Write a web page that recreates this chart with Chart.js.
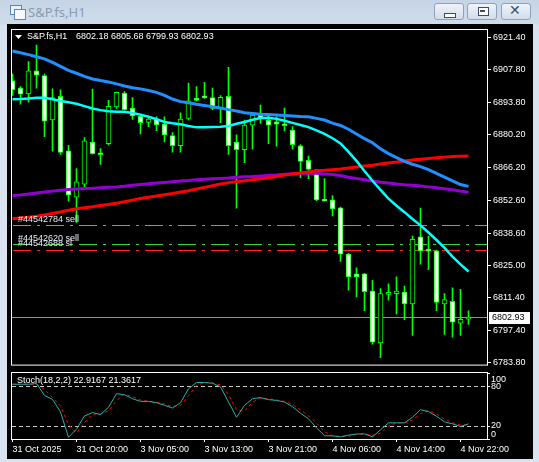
<!DOCTYPE html>
<html><head><meta charset="utf-8">
<script src="https://cdn.jsdelivr.net/npm/chart.js@4.4.1/dist/chart.umd.min.js"></script>
<style>
html,body{margin:0;padding:0;width:539px;height:462px;overflow:hidden;background:#d6e1ee;}
#win{position:absolute;left:0;top:0;width:539px;height:462px;background:linear-gradient(#c6d5e6 0px,#cfdcea 24px,#d8e3ef 25px,#d8e3ef 462px);}
#title{position:absolute;left:28px;top:3px;font:13px "Noto Sans",sans-serif;color:#8a9bb1;letter-spacing:0px;}
#client{position:absolute;left:7px;top:24px;width:526px;height:435px;background:#000;}
.btn{position:absolute;top:3px;width:30px;height:17px;border:1px solid #8fa1bb;border-radius:3px;background:linear-gradient(#eef3f9,#d2ddeb);box-sizing:border-box;}
.ic1{position:absolute;left:10px;top:5px;width:10px;height:8px;border:1px solid #5f84b8;background:#e8f0fa;}
.ic2{position:absolute;left:14px;top:9px;width:10px;height:9px;border:1px solid #5f84b8;background:#f4f8fd;}
canvas{position:absolute;left:0;top:0;}
</style></head>
<body>
<div id="win">
  <div class="ic1"></div><div class="ic2"></div>
  <div id="title">S&amp;P.fs,H1</div>
  <div class="btn" style="left:434px"><div style="position:absolute;left:9px;top:9px;width:10px;height:3px;border:1px solid #3c4c64;background:#fff;"></div></div>
  <div class="btn" style="left:467px"><div style="position:absolute;left:10px;top:3px;width:9px;height:7px;border:1px solid #3c4c64;background:#fff;"></div><div style="position:absolute;left:12px;top:6px;width:5px;height:2px;background:#3c4c64;"></div></div>
  <div class="btn" style="left:501px"><div style="position:absolute;left:7px;top:-2px;font:bold 14px 'DejaVu Sans',sans-serif;color:#3c4c64;">✕</div></div>
  <div id="client"></div>
</div>
<canvas id="main" width="539" height="372"></canvas>
<canvas id="stoch" width="539" height="462"></canvas>
<script>
// ---------- data ----------
const symbolName = 'S&P.fs,H1';
const quoteText = '6802.18 6805.68 6799.93 6802.93';
const timeLabels = ['31 Oct 2025','31 Oct 20:00','3 Nov 05:00','3 Nov 13:00','3 Nov 21:00','4 Nov 06:00','4 Nov 14:00','4 Nov 22:00'];
const timeLabelBars = [0,8,16,24,32,40,48,56];
const priceTicks = [6921.40,6907.80,6893.80,6880.20,6866.20,6852.60,6838.60,6825.00,6811.40,6797.40,6783.80];
const open  = [6903.2,6900.0,6897.6,6907.3,6905.3,6886.5,6896.5,6873.5,6853.8,6859.3,6877.2,6872.0,6876.5,6892.1,6897.9,6891.6,6888.2,6885.5,6886.9,6884.8,6879.9,6875.6,6887.2,6895.8,6896.0,6896.0,6891.4,6896.5,6877.2,6874.0,6884.3,6888.6,6886.5,6885.7,6884.4,6882.3,6875.6,6869.4,6865.4,6852.3,6852.7,6849.3,6829.7,6821.4,6821.4,6814.1,6792.1,6812.7,6813.0,6813.7,6808.6,6837.1,6831.2,6831.1,6808.6,6809.7,6800.5,6802.18];
const high  = [6906.0,6900.7,6911.3,6918.2,6906.0,6899.7,6899.3,6875.8,6866.0,6879.1,6899.6,6874.4,6894.8,6898.3,6898.6,6896.0,6888.6,6888.2,6887.9,6887.9,6881.2,6889.6,6902.1,6900.7,6902.5,6900.0,6896.9,6908.8,6880.2,6886.5,6889.6,6892.8,6888.2,6887.9,6891.6,6883.7,6876.1,6871.2,6865.6,6861.7,6854.5,6849.6,6830.1,6823.9,6821.6,6818.6,6815.1,6817.2,6820.1,6816.2,6837.4,6849.2,6837.4,6831.4,6813.0,6815.5,6814.8,6805.68];
const low   = [6896.9,6893.2,6894.1,6900.0,6879.5,6873.3,6871.9,6852.1,6843.2,6857.2,6872.0,6867.7,6876.0,6891.4,6890.7,6886.8,6880.6,6883.7,6882.0,6877.2,6872.9,6872.9,6886.5,6894.6,6895.7,6890.9,6885.4,6871.9,6849.2,6868.4,6874.2,6885.1,6876.5,6875.4,6881.9,6874.2,6862.1,6861.7,6852.4,6852.1,6845.9,6826.6,6814.5,6811.6,6805.8,6791.6,6785.9,6810.2,6804.4,6802.0,6795.3,6825.5,6823.2,6805.8,6795.7,6794.6,6795.3,6799.93];
const close = [6899.3,6897.4,6907.3,6905.5,6886.0,6896.0,6872.8,6854.7,6860.3,6877.7,6872.3,6871.8,6892.3,6898.2,6890.9,6888.2,6885.4,6886.9,6884.4,6880.2,6875.6,6886.9,6894.6,6894.8,6895.9,6891.4,6896.1,6875.6,6874.0,6884.4,6888.6,6887.2,6884.3,6884.8,6884.1,6876.1,6869.0,6865.6,6852.7,6852.2,6848.9,6829.7,6820.1,6820.1,6813.8,6792.5,6813.0,6813.0,6814.1,6808.6,6836.0,6831.1,6831.0,6809.3,6810.5,6800.9,6802.1,6802.93];
const maBlue   = [6915.7,6915.0,6914.2,6913.3,6912.4,6910.9,6909.2,6907.5,6906.3,6905.0,6903.9,6903.2,6902.6,6901.8,6900.9,6900.2,6899.7,6899.0,6898.2,6896.9,6895.4,6894.3,6893.8,6893.2,6892.7,6892.1,6891.6,6890.9,6890.3,6889.6,6889.3,6889.0,6888.8,6888.6,6888.4,6888.2,6888.0,6887.9,6887.2,6886.5,6885.2,6884.2,6882.6,6880.6,6878.6,6876.9,6874.3,6872.3,6870.6,6869.0,6867.8,6866.8,6865.5,6863.9,6862.3,6860.7,6859.2,6858.4];
const maAqua   = [6895.3,6895.4,6895.6,6895.9,6895.9,6895.3,6894.6,6894.0,6893.4,6892.4,6891.4,6890.7,6890.2,6890.0,6890.0,6889.5,6888.8,6887.9,6886.9,6885.7,6885.1,6884.7,6884.0,6883.4,6883.4,6883.6,6883.7,6884.0,6884.9,6885.7,6886.6,6887.4,6887.5,6887.0,6886.2,6885.3,6884.4,6883.5,6882.1,6880.6,6878.8,6876.6,6873.0,6869.2,6864.9,6860.8,6856.9,6853.2,6850.2,6847.5,6844.6,6841.9,6838.9,6835.7,6832.4,6828.7,6825.4,6822.4];
const maRed    = [6844.7,6845.0,6845.4,6845.8,6846.3,6846.9,6847.6,6848.3,6848.9,6849.4,6849.8,6850.3,6850.7,6851.3,6851.9,6852.6,6853.3,6853.8,6854.3,6854.9,6855.4,6856.0,6856.6,6857.3,6858.0,6858.7,6859.4,6860.0,6860.4,6860.8,6861.2,6861.6,6862.1,6862.6,6863.2,6863.7,6864.1,6864.5,6865.0,6865.2,6865.5,6865.8,6866.2,6866.6,6867.0,6867.4,6867.9,6868.3,6868.7,6869.2,6869.6,6869.9,6870.2,6870.5,6870.8,6871.1,6871.2,6871.3];
const maViolet = [6854.5,6854.8,6855.2,6855.6,6856.0,6856.4,6856.8,6857.1,6857.3,6857.5,6857.6,6857.8,6858.0,6858.2,6858.5,6858.9,6859.2,6859.5,6859.8,6860.1,6860.4,6860.7,6860.9,6861.2,6861.4,6861.6,6861.8,6862.0,6862.3,6862.5,6862.6,6862.8,6863.0,6863.2,6863.5,6863.8,6864.0,6864.1,6864.0,6863.7,6863.4,6863.0,6862.3,6861.8,6861.2,6860.7,6860.2,6859.8,6859.4,6859.1,6858.9,6858.6,6858.2,6857.8,6857.4,6857.0,6856.4,6855.9];
const bidPrice = 6802.93;
const orderLabels = ['#44542784 sell','#44542620 sell','#44542688 sl'];
const orderPrices = [6841.95,6834.0,6831.5];
const stochName = 'Stoch(18,2,2) 22.9167 21.3617';
const stochK = [83,83,83,84,66,60,41,2.6,15,35,40,37,48,68.8,67,61,57,57,55,51,47,55,76,85.6,85.6,84.5,79,56,33,51,61,62.7,59.6,58.5,56,49,39,30.6,17,5,4.7,3.2,5.8,7.7,7.7,3.2,14,24.5,24.5,24.5,33,44.4,41.5,34.5,26,23,19,22.92];
const stochD = [83,83,83,83,75,63,50,22,9,25,37.5,38.5,42.5,58,68,64,59,57,56,53,49,51,65.5,81,85.6,85,82,67.5,44.5,42,56,62,61,59,57,52.5,44,35,24,11,5,4,4.5,6.8,7.7,5.5,8.6,19.3,24.5,24.5,28.8,38.7,43,38,30.3,24.5,21,21.36];
const stochLevels = [80,20];
const stochTicks = [100,80,20,0];

// ---------- styling ----------
const FONT = '9px "Liberation Sans", Arial, sans-serif';
Chart.defaults.font.family = '"Liberation Sans", Arial, sans-serif';
Chart.defaults.font.size = 9;
Chart.defaults.color = '#ffffff';
const LIME = '#00ff00';
const orderColors = ['#3ccf3c','#3ccf3c','#ff2020'];
const orderDash = [18,6,3,6];
const XMIN = -0.0625, XMAX = 59.3125;
const idx = open.map((_, i) => i);

const mainPlugin = {
  id: 'mainPlugin',
  beforeDatasetsDraw(chart) {
    const {ctx, chartArea: a} = chart; const y = chart.scales.y;
    ctx.save();
    ctx.beginPath(); ctx.rect(a.left, a.top, a.right - a.left, a.bottom - a.top); ctx.clip();
    ctx.lineWidth = 1;
    orderPrices.forEach((p, k) => {
      const yy = Math.round(y.getPixelForValue(p)) + 0.5;
      ctx.strokeStyle = orderColors[k]; ctx.setLineDash(orderDash);
      ctx.beginPath(); ctx.moveTo(a.left + 1, yy); ctx.lineTo(a.right, yy); ctx.stroke();
    });
    ctx.setLineDash([]);
    const by = Math.round(y.getPixelForValue(bidPrice)) + 0.5;
    ctx.strokeStyle = '#8a949e';
    ctx.beginPath(); ctx.moveTo(a.left, by); ctx.lineTo(a.right, by); ctx.stroke();
    ctx.restore();
  },
  afterDraw(chart) {
    const {ctx, chartArea: a} = chart; const y = chart.scales.y;
    ctx.save();
    ctx.strokeStyle = '#ffffff'; ctx.lineWidth = 1;
    ctx.strokeRect(a.left - 0.5, a.top - 0.5, a.right - a.left + 1, a.bottom - a.top + 1);
    ctx.font = FONT; ctx.textBaseline = 'middle'; ctx.textAlign = 'left';
    ctx.fillStyle = '#ffffff';
    ctx.beginPath(); ctx.moveTo(a.left + 3, a.top + 5); ctx.lineTo(a.left + 10, a.top + 5); ctx.lineTo(a.left + 6.5, a.top + 9); ctx.closePath(); ctx.fill();
    ctx.fillText(symbolName, a.left + 15, a.top + 7);
    ctx.fillText(quoteText, a.left + 64, a.top + 7);
    ctx.fillStyle = '#e4ebf4';
    orderLabels.forEach((t, k) => {
      ctx.fillText(t, a.left + 6, y.getPixelForValue(orderPrices[k]) - 6);
    });
    const by = Math.round(y.getPixelForValue(bidPrice));
    ctx.fillStyle = '#ffffff';
    ctx.fillRect(a.right + 2, by - 5, 41, 12);
    ctx.fillStyle = '#000000';
    ctx.fillText(bidPrice.toFixed(2), a.right + 5, by + 1);
    ctx.restore();
  }
};

new Chart(document.getElementById('main'), {
  data: {
    datasets: [
      { type: 'bar', data: idx.map(i => ({x: i, y: [low[i], high[i]]})), backgroundColor: LIME, barThickness: 1, grouped: false, order: 10 },
      { type: 'bar', data: idx.map(i => ({x: i, y: [open[i], close[i]]})),
        backgroundColor: idx.map(i => close[i] >= open[i] ? '#000000' : '#ffffff'),
        borderColor: LIME, borderWidth: 1, borderSkipped: false, barThickness: 5, minBarLength: 2, grouped: false, order: 9 },
      { type: 'line', data: idx.map(i => ({x: i, y: maViolet[i]})), borderColor: '#9400d3', borderWidth: 3, pointRadius: 0, order: 4 },
      { type: 'line', data: idx.map(i => ({x: i, y: maRed[i]})), borderColor: '#ff0000', borderWidth: 3, pointRadius: 0, order: 3 },
      { type: 'line', data: idx.map(i => ({x: i, y: maBlue[i]})), borderColor: '#1e90ff', borderWidth: 3, pointRadius: 0, order: 2 },
      { type: 'line', data: idx.map(i => ({x: i, y: maAqua[i]})), borderColor: '#00ffff', borderWidth: 2.5, pointRadius: 0, order: 1 }
    ]
  },
  options: {
    responsive: false, animation: false, events: [], devicePixelRatio: 1,
    layout: { padding: { left: 12, top: 30, right: 0, bottom: 3 } },
    plugins: { legend: { display: false }, tooltip: { enabled: false } },
    scales: {
      x: { type: 'linear', min: XMIN, max: XMAX, offset: false, display: false },
      y: { type: 'linear', position: 'right', min: 6782.96, max: 6924.62,
           afterFit(s) { s.width = 52; },
           afterBuildTicks(s) { s.ticks = priceTicks.map(v => ({value: v})); },
           grid: { display: true, drawOnChartArea: false, drawTicks: true, tickLength: 4, color: '#ffffff' },
           border: { display: false },
           ticks: { color: '#ffffff', padding: 2, autoSkip: false, font: { size: 9 }, callback: v => Number(v).toFixed(2) } }
    }
  },
  plugins: [mainPlugin]
});

const stochPlugin = {
  id: 'stochPlugin',
  beforeDatasetsDraw(chart) {
    const {ctx, chartArea: a} = chart; const y = chart.scales.y;
    ctx.save();
    ctx.strokeStyle = '#c8c8c8'; ctx.lineWidth = 1; ctx.setLineDash([4, 3]);
    stochLevels.forEach(v => {
      const yy = Math.round(y.getPixelForValue(v)) + 0.5;
      ctx.beginPath(); ctx.moveTo(a.left, yy); ctx.lineTo(a.right, yy); ctx.stroke();
    });
    ctx.restore();
  },
  afterDraw(chart) {
    const {ctx, chartArea: a} = chart; const y = chart.scales.y;
    ctx.save();
    ctx.strokeStyle = '#ffffff'; ctx.lineWidth = 1;
    ctx.strokeRect(a.left - 0.5, a.top - 0.5, a.right - a.left + 1, a.bottom - a.top + 1);
    ctx.font = FONT; ctx.textBaseline = 'middle'; ctx.textAlign = 'left'; ctx.fillStyle = '#ffffff';
    ctx.fillText(stochName, a.left + 5, a.top + 8);
    stochTicks.forEach(v => {
      const yy = y.getPixelForValue(v);
      ctx.beginPath(); ctx.moveTo(a.right, Math.round(yy) + 0.5); ctx.lineTo(a.right + 3, Math.round(yy) + 0.5); ctx.stroke();
      const ty = Math.min(Math.max(yy, a.top + 6.5), a.bottom - 4);
      ctx.fillText(String(v), a.right + 4, ty);
    });
    ctx.restore();
  }
};

new Chart(document.getElementById('stoch'), {
  data: {
    datasets: [
      { type: 'line', data: idx.map(i => ({x: i, y: stochD[i]})), borderColor: '#ff0000', borderWidth: 1, borderDash: [3, 3], pointRadius: 0, order: 2 },
      { type: 'line', data: idx.map(i => ({x: i, y: stochK[i]})), borderColor: '#20b2aa', borderWidth: 1, pointRadius: 0, order: 1 }
    ]
  },
  options: {
    responsive: false, animation: false, events: [], devicePixelRatio: 1,
    layout: { padding: { left: 12, top: 373, right: 52, bottom: 0 } },
    plugins: { legend: { display: false }, tooltip: { enabled: false } },
    scales: {
      x: { type: 'linear', min: XMIN, max: XMAX, offset: false, position: 'bottom',
           afterFit(s) { s.height = 23; },
           afterBuildTicks(s) { s.ticks = timeLabelBars.map(v => ({value: v})); },
           grid: { display: true, drawOnChartArea: false, drawTicks: true, tickLength: 3, color: '#ffffff' },
           border: { display: false },
           ticks: { color: '#ffffff', padding: 2, autoSkip: false, maxRotation: 0, minRotation: 0, align: 'start', font: { size: 9 },
                    callback: v => timeLabels[timeLabelBars.indexOf(v)] } },
      y: { type: 'linear', min: 0, max: 100, display: false }
    }
  },
  plugins: [stochPlugin]
});
</script>
</body></html>
